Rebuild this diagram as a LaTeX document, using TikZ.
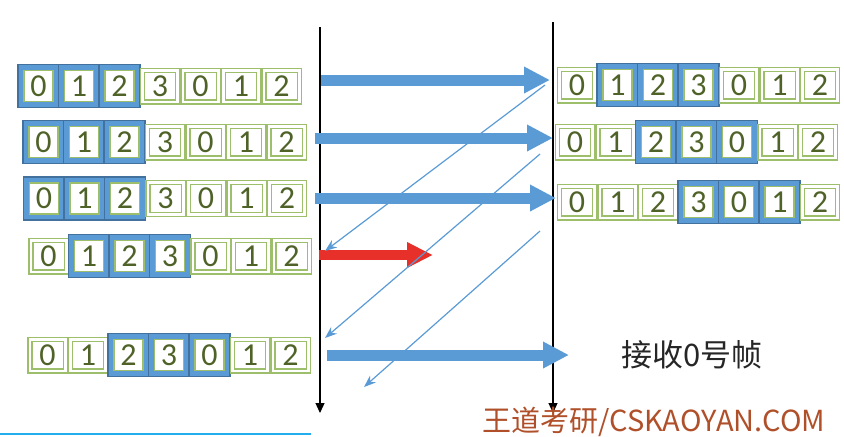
\documentclass[tikz,border=0pt]{standalone}
\usepackage{fontspec}
\setmainfont{Carlito}
\newfontfamily\cjk{Noto Sans CJK SC}
\usetikzlibrary{arrows.meta,positioning}

\definecolor{cellgreen}{HTML}{9DBE6A}
\definecolor{digitgreen}{HTML}{4F6228}
\definecolor{winblue}{HTML}{5B9BD5}
\definecolor{winedge}{HTML}{41719C}
\definecolor{lossred}{HTML}{E8302A}
\definecolor{brand}{HTML}{B0502A}
\definecolor{rule}{HTML}{22AEEE}

\tikzset{
  cell/.style={draw=cellgreen, double=white, double distance=1.4pt, line width=0.6pt,
    minimum width=17.6pt, minimum height=15.9pt, inner sep=0pt,
    text=digitgreen, font=\fontsize{16}{18}\selectfont},
  winbox/.style={draw=winedge, fill=winblue, line width=0.6pt,
    minimum width=20.5pt, minimum height=21.5pt, inner sep=0pt},
  wincell/.style={draw=cellgreen, fill=white, line width=0.6pt,
    minimum width=14.5pt, minimum height=15.5pt, inner sep=0pt,
    text=digitgreen, font=\fontsize{16}{18}\selectfont},
  timeline/.style={draw=black, line width=0.6pt, -{Triangle[length=5pt,width=4.5pt]}},
  frame/.style={draw=winblue, line width=5.5pt, -{Triangle[length=13pt,width=12.5pt]}},
  lost/.style={draw=lossred, line width=5pt, -{Triangle[length=13pt,width=12pt]}},
  ack/.style={draw=winblue, line width=0.6pt, -{Stealth[length=6pt,width=4.5pt]}}
}

% one row of the sequence 0 1 2 3 0 1 2, three cells framed from #4 on
\newcommand{\framerow}[4]{%
  \foreach \n [count=\i from 0] in {0,1,2,3,0,1,2} {
    \ifnum\i<#4
      \node[cell] (#1\i) at ({#2+40.5*\i},#3) {\n};
    \else\ifnum\i>\numexpr#4+2\relax
      \node[cell] (#1\i) at ({#2+40.5*\i},#3) {\n};
    \else
      \node[winbox] at ({#2+40.5*\i},#3) {};
      \node[wincell] (#1\i) at ({#2+40.5*\i},#3) {\n};
    \fi\fi
  }%
}

\begin{document}
\begin{tikzpicture}[x=0.5pt,y=-0.5pt]
  \useasboundingbox (0,0) rectangle (844,436);

  % sender windows
  \framerow{sa}{38.5}{86}{0}
  \framerow{sb}{43.5}{142}{0}
  \framerow{sc}{44}{198.5}{0}
  \framerow{sd}{48.5}{256}{1}
  \framerow{se}{47.5}{355}{2}

  % receiver windows
  \framerow{ra}{577}{85}{1}
  \framerow{rb}{575}{142}{2}
  \framerow{rc}{577}{202}{3}

  % time lines
  \coordinate (sendtop) at (320,27);
  \coordinate (sendend) at (320,413);
  \coordinate (recvtop) at (553,22);
  \coordinate (recvend) at (553,413);
  \draw [timeline] (sendtop) -- (sendend);
  \draw [timeline] (recvtop) -- (recvend);

  % frames
  \coordinate (f0s) at (321,80);  \coordinate (f0e) at (550,80);
  \coordinate (f1s) at (315,138); \coordinate (f1e) at (553,138);
  \coordinate (f2s) at (315,198); \coordinate (f2e) at (556,198);
  \coordinate (f3s) at (319,255); \coordinate (f3e) at (433,255);
  \coordinate (f4s) at (327,355); \coordinate (f4e) at (569,355);
  \draw [frame] (f0s) -- (f0e);
  \draw [frame] (f1s) -- (f1e);
  \draw [frame] (f2s) -- (f2e);
  \draw [lost] (f3s) -- (f3e);
  \draw [frame] (f4s) -- (f4e);

  % acknowledgements
  \coordinate (a0s) at (545,85);  \coordinate (a0e) at (325,251);
  \coordinate (a1s) at (540,154); \coordinate (a1e) at (325,338);
  \coordinate (a2s) at (540,231); \coordinate (a2e) at (364,387);
  \draw [ack] (a0s) -- (a0e);
  \draw [ack] (a1s) -- (a1e);
  \draw [ack] (a2s) -- (a2e);

  \node (note) at (692,355) {\cjk\fontsize{15.5}{18}\selectfont\color[HTML]{262626}接收0号帧};

  \node [anchor=base west, inner sep=0pt, text=brand] (mark) at (482,431)
    {\cjk\fontsize{14.5}{17}\selectfont 王道考研/CSKAOYAN.COM};
  \coordinate (rulea) at (0,434);
  \coordinate (ruleb) at (311,434);
  \draw [rule, line width=1pt] (rulea) -- (ruleb);
\end{tikzpicture}
\end{document}
